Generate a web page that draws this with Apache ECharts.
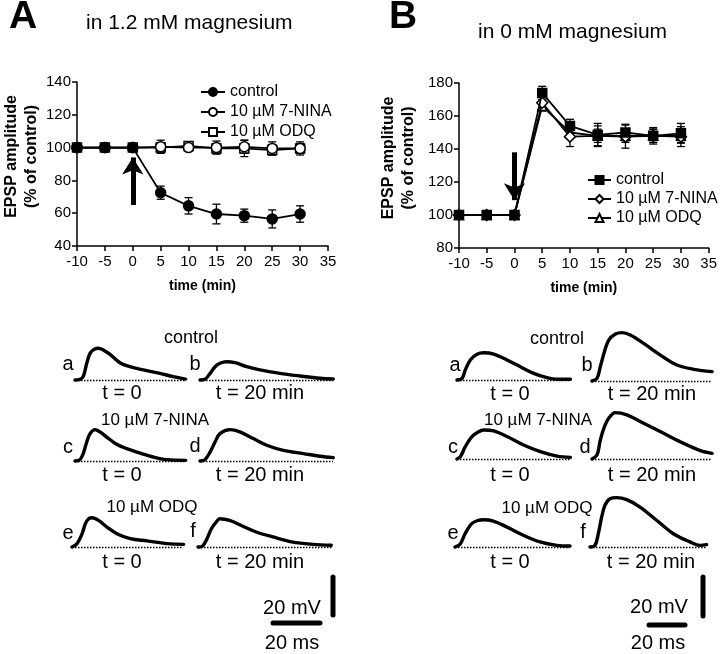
<!DOCTYPE html>
<html><head><meta charset="utf-8">
<script src="https://cdn.jsdelivr.net/npm/echarts@6/dist/echarts.min.js"></script>
<style>html,body{margin:0;padding:0;background:#fff}#c{width:720px;height:654px}</style>
</head><body><div id="c"></div>
<script>
const FONT = '"Liberation Sans", Arial, Helvetica, sans-serif';
// ---- time course data ----
const timeTicks = [-10, -5, 0, 5, 10, 15, 20, 25, 30];
const A_control     = [100, 100, 100, 72.5, 64.5, 59.5, 58.5, 56.5, 59.5];
const A_control_err = [0, 0, 0, 4, 5, 6, 4, 5.5, 5];
const A_nina        = [100, 100, 100, 100.5, 100, 100, 100.5, 99.5, 99.5];
const A_nina_err    = [0, 0, 0, 4, 2, 4, 4, 4, 3];
const A_odq         = [100, 100, 100, 100, 101, 99.5, 99.5, 98.5, 99.5];
const A_odq_err     = [0, 0, 0, 3, 2, 3, 5, 3, 4];
const B_control     = [100, 100, 100, 174, 154, 148.5, 150, 148, 149.5];
const B_control_err = [0, 0, 0, 4, 4, 7, 5, 5, 6];
const B_nina        = [100, 100, 100, 168, 147.5, 148, 147.5, 148, 147.5];
const B_nina_err    = [0, 0, 0, 4, 6, 6, 7, 4, 6];
const B_odq         = [100, 100, 100, 166, 150, 148, 148, 148, 148];
const B_odq_err     = [0, 0, 0, 3, 3, 4, 4, 4, 4];
const A_arrow = [65, 94];   // drug application arrow (from, to) in % units
const B_arrow = [138, 109];
const seriesNames = ['control', '10 µM 7-NINA', '10 µM ODQ'];
// ---- EPSP traces: [ms, mV] ----
const trA_a = [[0,0],[2.1,0.35],[3.5,1.75],[5,8.8],[6.4,14],[8.1,16.1],[9.9,16.7],[12,15.8],[14.9,13.5],[19.1,9.1],[23.4,7],[29.1,5.3],[36.2,3.5],[41.8,1.75],[47.1,0.5]];
const trA_b = [[0,0],[2.1,0.35],[4.3,3.5],[6.4,7],[8.5,8.8],[11.3,9.6],[14.9,9.1],[19.9,7],[25.5,5.3],[34,3.5],[42.6,2.1],[51,0.9],[56.7,0.5]];
const trA_c = [[0,0],[2.1,0.7],[3.5,3.9],[5,10],[6.4,14.4],[8.5,16.5],[10.6,15.3],[13.5,12.6],[17.7,8.8],[22,6.5],[27.7,4.2],[33.3,2.1],[39,0.7],[47.1,0.35]];
const trA_d = [[0,0],[2.1,0.7],[4.3,4.7],[6.4,10],[8.5,14.4],[12.8,16.5],[17,15.3],[22.7,11.8],[28.4,8.3],[35.5,5.6],[44,3.9],[51,2.5],[56.7,1.75]];
const trA_e = [[0,0],[2.1,1.75],[4.3,7],[5.7,12.3],[7.1,14.9],[8.5,15.4],[11.3,14],[14.9,10.5],[19.1,7],[24.8,4.4],[31.9,3.2],[40.4,1.75],[47.5,1.4]];
const trA_f = [[0,0],[1.8,0.35],[3.5,3.5],[5.7,9.6],[7.8,13.2],[9.2,14.9],[13.5,14],[19.1,10.9],[24.8,7.9],[31.9,5.3],[40.4,2.6],[48.9,1.4],[56.7,0.9]];
const trB_a = [[0,0],[2.8,0.85],[4.6,5.1],[7.4,10.3],[11.1,13.2],[14.8,14],[20.4,13.3],[27.8,10.3],[35.2,6.8],[42.6,3.4],[50,1.2],[55.6,0.35],[63,0.35]];
const trB_b = [[0,0],[2.8,1.4],[4.6,7.3],[6.9,15],[9.3,21],[13,24.1],[16.7,24.8],[21.3,23.6],[28.7,19.3],[38,13.3],[47.2,8.2],[56.5,6],[66.7,4.8]];
const trB_c = [[0,0],[1.9,1.2],[4.6,6.3],[8.3,11.5],[12,14],[14.8,14.9],[20.4,14.4],[27.8,11.5],[37,7.2],[46.3,3.8],[55.6,1.5],[63,0.85]];
const trB_d = [[0,0],[2.8,2.1],[4.6,9.7],[6.9,16.6],[9.3,20.9],[13,23.8],[19.4,22.6],[28.7,18.3],[39.8,13.2],[50.9,8],[60.2,4.3],[66.7,2.9]];
const trB_e = [[0,0],[2.8,1.4],[5.6,6.8],[9.3,12],[13,13.7],[15.7,14],[21.3,13.3],[28.7,10.3],[38,6],[47.2,2.6],[56.5,0.85],[63.9,0.5]];
const trB_f = [[0,0],[2.8,0.85],[4.6,6.8],[6.5,15.4],[8.3,21.4],[11.1,24.8],[14.8,25.3],[20.4,24.3],[27.8,20.5],[37,13.7],[46.3,6.8],[55.6,2.6],[61.1,0.85],[64.8,1.2]];
const scaleBarMs = 20, scaleBarMv = 20;

// ---- layout ----
const SA = {ms: 2.35, mv: 1.9, ymax: 20};
const SB = {ms: 1.8, mv: 1.95, ymax: 28};
const traceLayout = [
  {d: trA_a, s: SA, left: 75,  base: 380, w: 111},
  {d: trA_b, s: SA, left: 200, base: 380, w: 133},
  {d: trA_c, s: SA, left: 75,  base: 461, w: 111},
  {d: trA_d, s: SA, left: 200, base: 461, w: 133},
  {d: trA_e, s: SA, left: 72,  base: 547, w: 111},
  {d: trA_f, s: SA, left: 198, base: 547, w: 134},
  {d: trB_a, s: SB, left: 457, base: 380, w: 113},
  {d: trB_b, s: SB, left: 592, base: 381, w: 120},
  {d: trB_c, s: SB, left: 457, base: 459, w: 113},
  {d: trB_d, s: SB, left: 592, base: 459, w: 120},
  {d: trB_e, s: SB, left: 455, base: 547, w: 115},
  {d: trB_f, s: SB, left: 590, base: 547, w: 117}
];
const scaleLayout = [
  {s: SA, left: 273, right: 333, base: 623, top: 577},
  {s: SB, left: 649, right: 703, base: 625, top: 577}
];

const grids = [], xAxes = [], yAxes = [], series = [];
const axisCommon = {
  axisLine: {show: true, onZero: false, lineStyle: {color: '#000', width: 1.5}},
  axisTick: {show: true, length: 5, lineStyle: {color: '#000', width: 1.5}},
  splitLine: {show: false},
  axisLabel: {color: '#000', fontSize: 15, fontFamily: FONT}
};
function mainAxes(gi, ymin, ymax, nameGap) {
  xAxes.push(Object.assign({}, axisCommon, {
    type: 'value', gridIndex: gi, min: -10, max: 35, interval: 5,
    axisLabel: Object.assign({}, axisCommon.axisLabel, {margin: 8}),
    name: 'time (min)', nameLocation: 'middle', nameGap: 33,
    nameTextStyle: {color: '#000', fontWeight: 'bold', fontSize: 14, fontFamily: FONT}
  }));
  yAxes.push(Object.assign({}, axisCommon, {
    type: 'value', gridIndex: gi, min: ymin, max: ymax, interval: 20,
    axisLabel: Object.assign({}, axisCommon.axisLabel, {margin: 6}),
    name: 'EPSP amplitude\n(% of control)', nameLocation: 'middle', nameRotate: 90, nameGap: nameGap,
    nameTextStyle: {color: '#000', fontWeight: 'bold', fontSize: 16, lineHeight: 20, fontFamily: FONT, padding: [0, 0, 0, 15]}
  }));
}
grids.push({left: 77, top: 82, width: 251, height: 164});
mainAxes(0, 40, 140, 34);
grids.push({left: 459, top: 83, width: 250, height: 165});
mainAxes(1, 80, 180, 40);

function errSeries(gi, vals, errs) {
  return {
    type: 'custom', xAxisIndex: gi, yAxisIndex: gi, silent: true, z: 1,
    encode: {x: 0, y: 1},
    data: timeTicks.map((t, i) => [t, vals[i], errs[i]]),
    renderItem(params, api) {
      const e = api.value(2);
      if (!e) return null;
      const x = api.value(0), y = api.value(1);
      const a = api.coord([x, y + e]), b = api.coord([x, y - e]);
      const hw = 4, st = {stroke: '#000', lineWidth: 1.3};
      return {type: 'group', children: [
        {type: 'line', shape: {x1: a[0], y1: a[1], x2: b[0], y2: b[1]}, style: st},
        {type: 'line', shape: {x1: a[0] - hw, y1: a[1], x2: a[0] + hw, y2: a[1]}, style: st},
        {type: 'line', shape: {x1: b[0] - hw, y1: b[1], x2: b[0] + hw, y2: b[1]}, style: st}
      ]};
    }
  };
}
function lineSeries(name, gi, vals, symbol, filled, size, z) {
  return {
    name: name, type: 'line', xAxisIndex: gi, yAxisIndex: gi,
    data: timeTicks.map((t, i) => [t, vals[i]]),
    symbol: symbol, symbolSize: size, showAllSymbol: true, z: z,
    lineStyle: {color: '#000', width: 1.8},
    itemStyle: {color: filled ? '#000' : '#fff', borderColor: '#000', borderWidth: 1.5},
    emphasis: {disabled: true}
  };
}
function arrowMark(a) {
  return {silent: true, symbol: ['none', 'arrow'], symbolSize: [16, 17], precision: 2,
    lineStyle: {color: '#000', width: 5, type: 'solid'}, label: {show: false}, emphasis: {disabled: true},
    data: [[{coord: [0, a[0]]}, {coord: [0, a[1]]}]]};
}
// Panel A
series.push(errSeries(0, A_odq, A_odq_err), errSeries(0, A_nina, A_nina_err), errSeries(0, A_control, A_control_err));
series.push(lineSeries('A: ' + seriesNames[2], 0, A_odq, 'rect', false, 9, 3));
series.push(lineSeries('A: ' + seriesNames[1], 0, A_nina, 'circle', false, 10, 4));
const sA = lineSeries('A: ' + seriesNames[0], 0, A_control, 'circle', true, 10, 5);
sA.markLine = arrowMark(A_arrow);
series.push(sA);
// Panel B
series.push(errSeries(1, B_odq, B_odq_err), errSeries(1, B_nina, B_nina_err), errSeries(1, B_control, B_control_err));
series.push(lineSeries('B: ' + seriesNames[2], 1, B_odq, 'triangle', false, 9, 3));
series.push(lineSeries('B: ' + seriesNames[1], 1, B_nina, 'diamond', false, 11, 4));
const sB = lineSeries('B: ' + seriesNames[0], 1, B_control, 'rect', true, 9, 5);
sB.markLine = arrowMark(B_arrow);
series.push(sB);

// traces
traceLayout.forEach(function (t) {
  const gi = grids.length, h = t.s.ymax * t.s.mv;
  grids.push({left: t.left, top: t.base - h, width: t.w, height: h});
  xAxes.push({type: 'value', gridIndex: gi, min: 0, max: t.w / t.s.ms, show: false});
  yAxes.push({type: 'value', gridIndex: gi, min: 0, max: t.s.ymax, show: false});
  series.push({
    type: 'line', xAxisIndex: gi, yAxisIndex: gi, data: t.d, smooth: 0.35, symbol: 'none', clip: false,
    silent: true, lineStyle: {color: '#000', width: 3.4, cap: 'round', join: 'round'}, z: 3,
    markLine: {silent: true, symbol: 'none', label: {show: false}, emphasis: {disabled: true},
      lineStyle: {type: [1.5, 1.5], color: '#000', width: 1.3}, data: [{yAxis: 0}]}
  });
});
// scale bars
scaleLayout.forEach(function (L) {
  const gi = grids.length;
  const w = L.right - L.left, h = L.base - L.top;
  const xmax = w / L.s.ms, ymax = h / L.s.mv;
  grids.push({left: L.left, top: L.top, width: w, height: h});
  xAxes.push({type: 'value', gridIndex: gi, min: 0, max: xmax, show: false});
  yAxes.push({type: 'value', gridIndex: gi, min: 0, max: ymax, show: false});
  const st = {color: '#000', width: 5, cap: 'round'};
  series.push({type: 'line', xAxisIndex: gi, yAxisIndex: gi, symbol: 'none', clip: false, silent: true,
    lineStyle: st, data: [[0, 0], [scaleBarMs, 0]]});
  series.push({type: 'line', xAxisIndex: gi, yAxisIndex: gi, symbol: 'none', clip: false, silent: true,
    lineStyle: st, data: [[xmax, ymax - scaleBarMv], [xmax, ymax]]});
});

function txt(x, y, s, size, weight) {
  return {type: 'text', x: x, y: y, silent: true, style: {text: s, fill: '#000',
    font: (weight || 'normal') + ' ' + size + 'px ' + FONT,
    textAlign: 'center', textVerticalAlign: 'middle', align: 'center', verticalAlign: 'middle'}};
}
const graphic = [
  {type: 'text', left: 9, top: -2, silent: true, style: {text: 'A', fill: '#000', font: 'bold 39px ' + FONT}},
  {type: 'text', left: 389, top: -2, silent: true, style: {text: 'B', fill: '#000', font: 'bold 39px ' + FONT}},
  {type: 'text', left: 86, top: 13, silent: true, style: {text: 'in 1.2 mM magnesium', fill: '#000', font: '21px ' + FONT}},
  {type: 'text', left: 478, top: 22, silent: true, style: {text: 'in 0 mM magnesium', fill: '#000', font: '21px ' + FONT}},
  // panel A trace labels
  txt(191, 338, 'control', 18), txt(68, 364, 'a', 20), txt(195, 364, 'b', 20),
  txt(122, 393, 't = 0', 20), txt(260, 393, 't = 20 min', 20),
  txt(155, 420, '10 µM 7-NINA', 17), txt(68, 447, 'c', 20), txt(195, 446, 'd', 20),
  txt(122, 475, 't = 0', 20), txt(260, 475, 't = 20 min', 20),
  txt(152, 507, '10 µM ODQ', 17), txt(68, 533, 'e', 20), txt(193, 531, 'f', 20),
  txt(122, 562, 't = 0', 20), txt(260, 562, 't = 20 min', 20),
  txt(292, 608, '20 mV', 20), txt(292, 643, '20 ms', 20),
  // panel B trace labels
  txt(557, 339, 'control', 18), txt(455, 365, 'a', 20), txt(587, 365, 'b', 20),
  txt(510, 394, 't = 0', 20), txt(652, 394, 't = 20 min', 20),
  txt(538, 420, '10 µM 7-NINA', 17), txt(453, 447, 'c', 20), txt(585, 447, 'd', 20),
  txt(510, 475, 't = 0', 20), txt(652, 475, 't = 20 min', 20),
  txt(547, 508, '10 µM ODQ', 17), txt(453, 533, 'e', 20), txt(583, 532, 'f', 20),
  txt(510, 562, 't = 0', 20), txt(651, 562, 't = 20 min', 20),
  txt(659, 607, '20 mV', 20), txt(658, 643, '20 ms', 20)
];

const legendCommon = {orient: 'vertical', itemHeight: 10, selectedMode: false,
  textStyle: {fontSize: 16, color: '#000', fontFamily: FONT},
  formatter: function (n) { return n.slice(3); }};
const chart = echarts.init(document.getElementById('c'), null, {renderer: 'canvas'});
chart.setOption({
  animation: false,
  backgroundColor: '#fff',
  textStyle: {fontFamily: FONT},
  grid: grids, xAxis: xAxes, yAxis: yAxes, series: series,
  legend: [
    Object.assign({}, legendCommon, {left: 195, top: 79, itemWidth: 24, itemGap: 4,
      data: seriesNames.map(n => 'A: ' + n)}),
    Object.assign({}, legendCommon, {left: 582, top: 167, itemWidth: 23, itemGap: 3,
      data: seriesNames.map(n => 'B: ' + n)})
  ],
  graphic: graphic
});
</script></body></html>
